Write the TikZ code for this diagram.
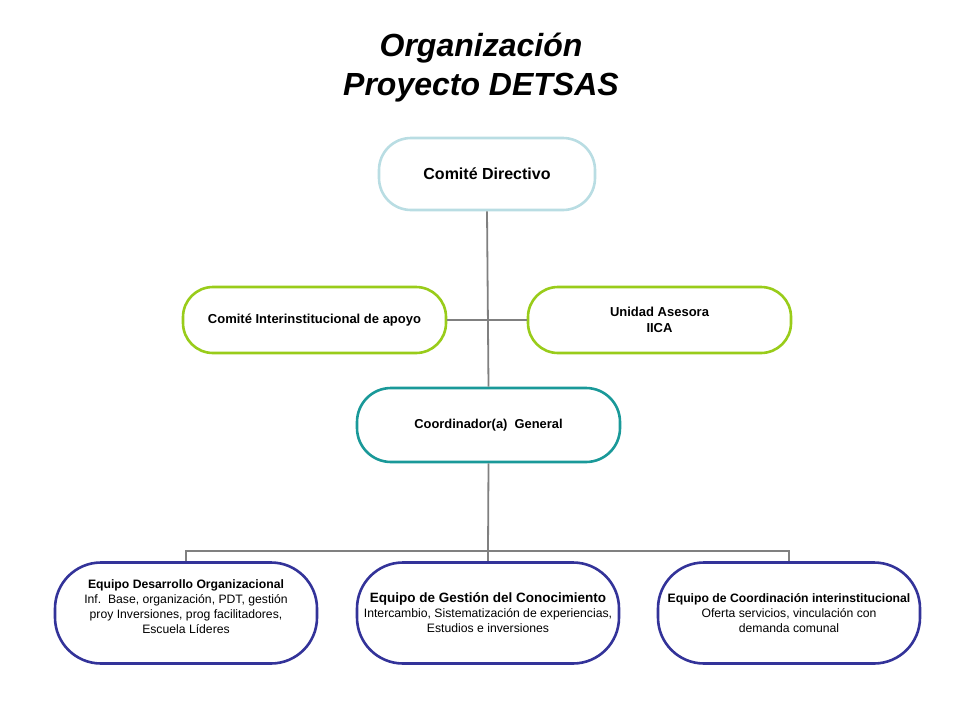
\documentclass[tikz,border=0pt]{standalone}
\usepackage{fontspec}
\setmainfont{Liberation Sans}
\definecolor{lblue}{HTML}{B9DDE3}
\definecolor{lgreen}{HTML}{99CC1A}
\definecolor{teal2}{HTML}{1A9999}
\definecolor{dblue}{HTML}{333399}
\definecolor{conn}{HTML}{808080}
\begin{document}
\begin{tikzpicture}[x=1pt,y=-1pt,
  box/.style={draw,line width=2.6pt,fill=white,text=black,align=center,inner sep=0pt},
  topbox/.style={box,draw=lblue,minimum width=216pt,minimum height=72pt,rounded corners=32pt,font=\fontsize{16}{18}\selectfont\bfseries},
  midbox/.style={box,draw=lgreen,minimum width=263pt,minimum height=66pt,rounded corners=30pt,font=\fontsize{13}{16}\selectfont\bfseries},
  coordbox/.style={box,draw=teal2,minimum width=263pt,minimum height=74pt,rounded corners=34pt,font=\fontsize{12.9}{16}\selectfont\bfseries},
  lowbox/.style={box,draw=dblue,minimum width=262pt,minimum height=101pt,rounded corners=46pt,font=\fontsize{12.2}{15}\selectfont},
  link/.style={draw=conn,line width=1.8pt}
]
\useasboundingbox (0,0) rectangle (960,720);
\node[font=\fontsize{32}{39}\selectfont\bfseries\itshape,align=center] (title) at (481,68) {Organización\\Proyecto DETSAS};
\node[topbox] (cd) at (487,174) {Comité Directivo};
\node[midbox] (ci) at (314.5,320) {Comité\ Interinstitucional\ de apoyo};
\node[midbox] (ua) at (659.5,320) {Unidad Asesora\\IICA};
\node[coordbox] (cg) at (488.5,425) {Coordinador(a)\ \ General};
\node[lowbox] (e1) at (186,613) {\textbf{Equipo\ Desarrollo Organizacional}\\Inf.\ \ Base, organización, PDT, gestión\\proy Inversiones, prog facilitadores,\\Escuela Líderes\\[-3pt]\mbox{}};
\node[lowbox] (e2) at (488,613) {\fontsize{13.5}{15}\selectfont\textbf{Equipo de Gestión del Conocimiento}\\Intercambio, Sistematización de experiencias,\\Estudios e inversiones};
\node[lowbox] (e3) at (789,613) {\textbf{Equipo de Coordinación interinstitucional}\\Oferta servicios, vinculación con\\demanda comunal};
\coordinate (bus) at (488,551);
\draw[link] (cd.south) -- (cg.north);
\draw[link] (ci.east) -- (ua.west);
\draw[link] (cg.south) -- (bus);
\draw[link] (e1.north) |- (bus) -| (e3.north);
\draw[link] (bus) -- (e2.north);
\end{tikzpicture}
\end{document}
